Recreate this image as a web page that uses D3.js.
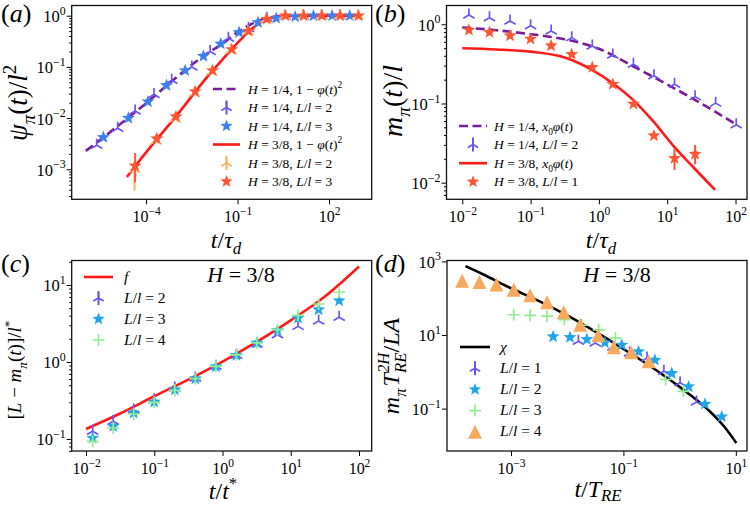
<!DOCTYPE html>
<html><head><meta charset="utf-8">
<script src="https://cdn.jsdelivr.net/npm/d3@7"></script>
<style>
body{margin:0;background:#fff}
svg text, svg tspan{font-family:'Liberation Serif','DejaVu Serif','Times New Roman',serif !important;white-space:pre}
</style>
</head><body><svg id="chart" width="750" height="505"></svg>
<script>
// ---------------- DATA ----------------
// Panel (a)
const aTicksX=[1e-4,1e-1,1e2];
const aTicksY=[1e-3,1e-2,1e-1,1];
const aDashT=[1.05e-6,1e-5,1e-4,1e-3,1e-2,0.0316,0.1,0.316,1,3.16,10,1000];
const aDashV=[2.29e-3,6.46e-3,0.0195,0.063,0.182,0.28,0.479,0.708,0.912,0.99,1,1];
const aRedT=[2.34e-5,1e-4,1e-3,0.01,0.0316,0.1,0.316,1,3.16,10,1000];
const aRedV=[7.08e-4,2.14e-3,0.0112,0.063,0.138,0.295,0.575,0.871,0.977,1,1];
const aTriQT=[2.40e-6,1.17e-5,4.37e-5,1.82e-4,6.92e-4,3.16e-3,0.0126,0.0501,0.229,0.912,3.63,14.5,57.5,229];
const aTriQV=[2.95e-3,6.31e-3,0.0138,0.0288,0.055,0.1,0.2,0.363,0.56,0.89,0.98,1,1,1];
const aStarQT=[3.98e-6,2.63e-5,1.15e-4,4.68e-4,1.91e-3,7.59e-3,0.0282,0.112,0.468,1.86,7.76,30.9,126,479];
const aStarQV=[4.22e-3,0.01,0.0209,0.0437,0.0851,0.162,0.282,0.473,0.741,0.891,0.955,1,1,1];
const aTriET=[4.17e-5,2.09e-4,8.91e-4,3.80e-3,0.0141,0.0603,0.219,0.851,3.47,13.8,55,219,871];
const aTriEV=[1.0e-3,3.55e-3,9.55e-3,0.0302,0.0794,0.209,0.49,0.851,1,1,1,1,1];
const aTriELo=[3.8e-4], aTriEHi=[1.41e-3];
const aStarET=[4.37e-5,2.24e-4,9.55e-4,4.07e-3,0.0151,0.0646,0.229,0.912,3.72,14.8,58.9,234,933];
const aStarEV=[1.17e-3,3.98e-3,0.0107,0.0331,0.0851,0.219,0.501,0.861,1,1,1,1,1];
const aStarELo=[5.6e-4], aStarEHi=[2.09e-3];
// Panel (b)
const bTicksX=[0.01,0.1,1,10,100];
const bTicksY=[0.01,0.1,1];
const bDashT=[0.01,0.0316,0.1,0.316,1,3.16,10,31.6,100];
const bDashV=[0.912,0.841,0.75,0.646,0.49,0.295,0.174,0.1,0.055];
const bRedT=[0.01,0.0316,0.1,0.316,0.794,1.585,3.16,6.31,12.6,25.1,50.1];
const bRedV=[0.498,0.481,0.451,0.380,0.265,0.18,0.111,0.0589,0.0285,0.0151,0.00813];
const bTriT=[0.0125,0.025,0.05,0.1,0.2,0.4,0.8,1.6,3.2,6.4,12.8,25.6,51.2,102.4];
const bTriV=[1.31,1.21,1.10,0.96,0.822,0.678,0.532,0.409,0.313,0.224,0.175,0.122,0.101,0.0537];
const bStarT=[0.0125,0.025,0.05,0.1,0.2,0.4,0.8,1.6,3.2,6.4,12.8,25.6];
const bStarV=[0.847,0.793,0.718,0.652,0.537,0.418,0.286,0.175,0.0986,0.0392,0.0203,0.0229];
const bStarLo=[null,null,null,null,null,null,null,null,null,null,0.0145,0.0171];
const bStarHi=[null,null,null,null,null,null,null,null,null,null,0.0272,0.0299];
// Panel (c)
const cTicksX=[0.01,0.1,1,10,100];
const cTicksY=[0.1,1,10];
const cLineT=[0.01,0.0316,0.1,0.316,1,3.16,10,31.6,100];
const cLineV=[0.135,0.214,0.359,0.59,1.01,1.82,3.47,7.08,17.4];
const cT=[0.0125,0.025,0.05,0.1,0.2,0.4,0.8,1.6,3.2,6.4,12.8,25.6,51.2];
const cTriV=[0.126,0.17,0.24,0.324,0.459,0.619,0.879,1.22,1.71,2.26,2.9,3.4,3.8];
const cStarV=[0.103,0.146,0.218,0.303,0.437,0.607,0.869,1.22,1.77,2.55,3.72,4.78,6.25];
const cPlusV=[0.0933,0.139,0.211,0.299,0.429,0.607,0.879,1.24,1.77,2.63,4.04,5.66,8.11];
// Panel (d)
const dTicksX=[1e-3,1e-1,10];
const dTicksY=[0.1,10,1000];
const dLineT=[1.55e-4,3.16e-4,1e-3,3.16e-3,0.01,0.0316,0.1,0.316,1,3.16,6.31,10.2];
const dLineV=[741,447,186,83.2,33.9,12.3,4.17,1.35,0.389,0.0955,0.0316,0.0116];
const dTriT=[0.0158,0.0316,0.0646,0.129,0.263,0.525,1.02,2.0];
const dTriV=[6.76,6.03,4.68,3.24,2.37,1.03,0.501,0.151];
const dStarT=[5.62e-3,0.0112,0.0224,0.0468,0.0933,0.186,0.363,0.724,1.45,2.82,5.62];
const dStarV=[9.0,8.65,7.64,6.17,5.35,3.52,2.09,0.912,0.394,0.133,0.0603];
const dPlusT=[1.12e-3,2.19e-3,4.37e-3,8.91e-3,0.0182,0.0363,0.0724,0.562,1.17];
const dPlusV=[35.5,34.3,32.4,26.3,18.6,13.8,8.32,0.617,0.295];
const dTriaT=[1.35e-4,2.75e-4,5.5e-4,1.12e-3,2.19e-3,4.37e-3,8.71e-3,0.017,0.0355,0.0676,0.138,0.282];
const dTriaV=[299,275,234,170,120,77.6,41.7,19.1,9.77,4.68,3.39,1.93];

// ---------------- STYLE ----------------
const COL={purple:'#7b1c99',red:'#ff1a1a',triBlue:'#6a55f2',starBlue:'#3d80f0',starRed:'#ff5533',
  triOrange:'#ffb061',sky:'#1ea5ea',green:'#93ee93',orange:'#f7aa5f',black:'#000'};
const SERIF="'Liberation Serif','DejaVu Serif','Times New Roman',serif";
const svg=d3.select('#chart');

function rich(sel,parts,fs,subK){
  let cur=0; const sk=subK==null?0.3:subK;
  parts.forEach(([s,f])=>{
    const sb=f.includes('b'), sp=f.includes('p');
    const target= sb? fs*sk : sp? -fs*0.42 : 0;
    const ts=sel.append('tspan').text(s).attr('font-size',(sb||sp)?fs*0.7:fs);
    if(target!==cur) ts.attr('dy',target-cur);
    cur=target;
    if(f.includes('i')) ts.attr('font-style','italic');
  });
  return sel;
}
function txt(g,x,y,fs,anchor){
  return g.append('text').attr('x',x).attr('y',y).style('font-family',SERIF).attr('font-size',fs)
    .attr('fill','#000').attr('text-anchor',anchor||'start');
}
function expLabel(sel,v,fs){
  const e=Math.round(Math.log10(v));
  sel.append('tspan').text('10');
  sel.append('tspan').attr('dy',-fs*0.45).attr('font-size',fs*0.72).text(e<0?'\u2212'+(-e):String(e));
}

function panel(o){
  const x=d3.scaleLog().domain(o.xd).range([o.l,o.r]);
  const y=d3.scaleLog().domain(o.yd).range([o.b,o.t]);
  const id='clip'+o.name;
  svg.append('clipPath').attr('id',id).append('rect').attr('x',o.l).attr('y',o.t).attr('width',o.r-o.l).attr('height',o.b-o.t);
  const g=svg.append('g');
  const xa=g.append('g').attr('transform',`translate(0,${o.b})`)
    .call(d3.axisBottom(x).tickValues(o.xt).tickSize(5).tickFormat(()=>''));
  xa.select('.domain').remove();
  xa.selectAll('.tick').each(function(d){
    const t=d3.select(this).append('text').attr('y',23).attr('text-anchor','middle')
      .style('font-family',SERIF).attr('font-size',16).attr('fill','#000');
    expLabel(t,d,16);
  });
  if(o.minor){
    const mv=[];const lo=Math.log10(o.yd[0]),hi=Math.log10(o.yd[1]);
    for(let k=Math.floor(lo);k<=Math.ceil(hi);k++) for(let m=2;m<10;m++){const v=m*Math.pow(10,k); if(Math.log10(v)>lo&&Math.log10(v)<hi) mv.push(v);}
    const ma=g.append('g').attr('transform',`translate(${o.l},0)`)
      .call(d3.axisLeft(y).tickValues(mv).tickSize(2.5).tickFormat(()=>''));
    ma.select('.domain').remove();
  }
  const ya=g.append('g').attr('transform',`translate(${o.l},0)`)
    .call(d3.axisLeft(y).tickValues(o.yt).tickSize(5).tickFormat(()=>''));
  ya.select('.domain').remove();
  ya.selectAll('.tick').each(function(d){
    const t=d3.select(this).append('text').attr('x',-6).attr('y',6).attr('text-anchor','end')
      .style('font-family',SERIF).attr('font-size',16.5).attr('fill','#000');
    expLabel(t,d,16.5);
  });
  const plot=g.append('g').attr('clip-path',`url(#${id})`);
  const P={x,y,g,plot,o};
  P.frame=()=>g.append('rect').attr('x',o.l).attr('y',o.t).attr('width',o.r-o.l).attr('height',o.b-o.t)
    .attr('fill','none').attr('stroke','#111').attr('stroke-width',1.3);
  return P;
}

function mark(g,shape,cx,cy,r,color){
  const tr=`translate(${cx},${cy})`;
  if(shape==='star'){
    let p='';for(let k=0;k<10;k++){const a=-Math.PI/2+k*Math.PI/5;const rr=k%2?r*0.42:r;
      p+=(k?'L':'M')+(rr*Math.cos(a)).toFixed(2)+','+(rr*Math.sin(a)).toFixed(2);}
    g.append('path').attr('d',p+'Z').attr('transform',tr).attr('fill',color);
  } else if(shape==='tri'){
    g.append('path').attr('d',`M0,0V${-r}M0,0L${-0.866*r},${0.5*r}M0,0L${0.866*r},${0.5*r}`)
      .attr('transform',tr).attr('stroke',color).attr('stroke-width',1.7).attr('fill','none');
  } else if(shape==='plus'){
    g.append('path').attr('d',`M${-r},0H${r}M0,${-r}V${r}`)
      .attr('transform',tr).attr('stroke',color).attr('stroke-width',1.7).attr('fill','none');
  } else if(shape==='triangle'){
    g.append('path').attr('d',`M0,${-r}L${-r},${r}L${r},${r}Z`).attr('transform',tr).attr('fill',color);
  }
}
function scatter(P,xs,ys,shape,color,r,lo,hi){
  xs.forEach((xv,i)=>{
    const cx=P.x(xv),cy=P.y(ys[i]);
    if(lo&&lo[i]!=null&&hi&&hi[i]!=null)
      P.plot.append('line').attr('x1',cx).attr('x2',cx).attr('y1',P.y(lo[i])).attr('y2',P.y(hi[i]))
        .attr('stroke',color).attr('stroke-width',2);
    mark(P.plot,shape,cx,cy,r,color);
  });
}
function curve(P,xs,ys,color,dash){
  P.plot.append('path').datum(xs.map((t,i)=>[t,ys[i]]))
    .attr('d',d3.line().x(d=>P.x(d[0])).y(d=>P.y(d[1])).curve(d3.curveMonotoneX))
    .attr('fill','none').attr('stroke',color).attr('stroke-width',2.6).attr('stroke-dasharray',dash||null);
}
function legend(P,x0,lx,tx,y0,dy,items,fs){
  items.forEach((it,i)=>{
    const yy=y0+i*dy;
    if(it.line) P.g.append('line').attr('x1',x0).attr('x2',x0+lx).attr('y1',yy).attr('y2',yy)
      .attr('stroke',it.color).attr('stroke-width',2.6).attr('stroke-dasharray',it.dash||null);
    if(it.shape){
      const cx=x0+lx/2;
      if(it.err) P.g.append('line').attr('x1',cx).attr('x2',cx).attr('y1',yy-7).attr('y2',yy+7).attr('stroke',it.color).attr('stroke-width',2);
      mark(P.g,it.shape,cx,yy,it.r,it.color);
    }
    rich(txt(P.g,tx,yy+4.5,fs),it.text,fs);
  });
}
function ylabel(cx,cy,parts,fs){
  const t=svg.append('text').attr('transform',`translate(${cx},${cy}) rotate(-90)`).attr('text-anchor','middle')
    .style('font-family',SERIF).attr('font-size',fs).attr('fill','#000');
  rich(t,parts,fs);return t;
}
function xlabel(cx,by,parts,fs,subK){ rich(txt(svg,cx,by,fs,'middle'),parts,fs,subK); }

// ---------------- PANEL (a) ----------------
const A=panel({name:'a',l:71.7,r:371.7,t:5.5,b:199.3,xd:[Math.pow(10,-6.44),Math.pow(10,3.40)],
  yd:[Math.pow(10,-3.586),Math.pow(10,0.199)],xt:aTicksX,yt:aTicksY,minor:true});
curve(A,aDashT,aDashV,COL.purple,'9,4.5');
curve(A,aRedT,aRedV,COL.red);
scatter(A,aTriQT,aTriQV,'tri',COL.triBlue,6.5);
scatter(A,aStarQT,aStarQV,'star',COL.starBlue,6.8);
scatter(A,aTriET,aTriEV,'tri',COL.triOrange,6.5,aTriELo,aTriEHi);
scatter(A,aStarET,aStarEV,'star',COL.starRed,6.8,aStarELo,aStarEHi);
A.frame();
legend(A,213,27,248,89,18.5,[
  {line:1,color:COL.purple,dash:'9,4.5',text:[['H','i'],[' = 1/4, 1 \u2212 ',''],['\u03c6','i'],['(',''],['t','i'],[')',''],['2','p']]},
  {shape:'tri',r:6,err:1,color:COL.triBlue,text:[['H','i'],[' = 1/4, ',''],['L','i'],['/',''],['l','i'],[' = 2','']]},
  {shape:'star',r:6.5,color:COL.starBlue,text:[['H','i'],[' = 1/4, ',''],['L','i'],['/',''],['l','i'],[' = 3','']]},
  {line:1,color:COL.red,text:[['H','i'],[' = 3/8, 1 \u2212 ',''],['\u03c6','i'],['(',''],['t','i'],[')',''],['2','p']]},
  {shape:'tri',r:6,err:1,color:COL.triOrange,text:[['H','i'],[' = 3/8, ',''],['L','i'],['/',''],['l','i'],[' = 2','']]},
  {shape:'star',r:6.5,color:COL.starRed,text:[['H','i'],[' = 3/8, ',''],['L','i'],['/',''],['l','i'],[' = 3','']]}
],13.5);
ylabel(27,103,[['\u03c8','i'],['\u03c0','ib'],['(',''],['t','i'],[')/',''],['l','i'],['2','p']],27);
xlabel(226,247.5,[['t','i'],['/',''],['\u03c4','i'],['d','ib']],24,0.25);
rich(txt(svg,1,22,26),[['(',''],['a','i'],[')','']],26);

// ---------------- PANEL (b) ----------------
const B=panel({name:'b',l:446.5,r:747,t:5.5,b:199.3,xd:[Math.pow(10,-2.231),Math.pow(10,2.168)],
  yd:[Math.pow(10,-2.21),Math.pow(10,0.237)],xt:bTicksX,yt:bTicksY,minor:true});
curve(B,bDashT,bDashV,COL.purple,'9,4.5');
scatter(B,bTriT,bTriV,'tri',COL.triBlue,6.5);
curve(B,bRedT,bRedV,COL.red);
scatter(B,bStarT,bStarV,'star',COL.starRed,6.8,bStarLo,bStarHi);
B.frame();
legend(B,459,28,494,126,18.6,[
  {line:1,color:COL.purple,dash:'9,4.5',text:[['H','i'],[' = 1/4, ',''],['x','i'],['0','b'],['\u03c6','i'],['(',''],['t','i'],[')','']]},
  {shape:'tri',r:6,err:1,color:COL.triBlue,text:[['H','i'],[' = 1/4, ',''],['L','i'],['/',''],['l','i'],[' = 2','']]},
  {line:1,color:COL.red,text:[['H','i'],[' = 3/8, ',''],['x','i'],['0','b'],['\u03c6','i'],['(',''],['t','i'],[')','']]},
  {shape:'star',r:6.5,color:COL.starRed,text:[['H','i'],[' = 3/8, ',''],['L','i'],['/',''],['l','i'],[' = 1','']]}
],13.5);
ylabel(402,101,[['m','i'],['\u03c0','ib'],['(',''],['t','i'],[')/',''],['l','i']],28);
xlabel(601,247.5,[['t','i'],['/',''],['\u03c4','i'],['d','ib']],24,0.25);
rich(txt(svg,375,22,26),[['(',''],['b','i'],[')','']],26);

// ---------------- PANEL (c) ----------------
const Cp=panel({name:'c',l:71.7,r:371.7,t:260.5,b:451,xd:[Math.pow(10,-2.21),Math.pow(10,2.186)],
  yd:[Math.pow(10,-1.156),Math.pow(10,1.318)],xt:cTicksX,yt:cTicksY,minor:true});
curve(Cp,cLineT,cLineV,COL.red);
scatter(Cp,cT,cTriV,'tri',COL.triBlue,6.5);
scatter(Cp,cT,cStarV,'star',COL.sky,6.8);
scatter(Cp,cT,cPlusV,'plus',COL.green,6);
Cp.frame();
legend(Cp,84,29,124,277,21,[
  {line:1,color:COL.red,text:[['f','i']]},
  {shape:'tri',r:6,err:1,color:COL.triBlue,text:[['L','i'],['/',''],['l','i'],[' = 2','']]},
  {shape:'star',r:6.5,color:COL.sky,text:[['L','i'],['/',''],['l','i'],[' = 3','']]},
  {shape:'plus',r:6,color:COL.green,text:[['L','i'],['/',''],['l','i'],[' = 4','']]}
],15.5);
rich(txt(svg,241,282,22,'middle'),[['H','i'],[' = 3/8','']],22);
ylabel(21,370,[['[',''],['L','i'],[' \u2212 ',''],['m','i'],['\u03c0','ib'],['(',''],['t','i'],[')]/',''],['l','i'],['*','p']],19);
xlabel(223,499,[['t','i'],['/',''],['t','i'],['*','p']],24);
rich(txt(svg,1,272,26),[['(',''],['c','i'],[')','']],26);

// ---------------- PANEL (d) ----------------
const D=panel({name:'d',l:447,r:747,t:260.5,b:451,xd:[Math.pow(10,-4.139),Math.pow(10,1.199)],
  yd:[Math.pow(10,-2.152),Math.pow(10,3.024)],xt:dTicksX,yt:dTicksY,minor:false});
curve(D,dLineT,dLineV,COL.black);
scatter(D,dTriT,dTriV,'tri',COL.triBlue,6.5);
scatter(D,dStarT,dStarV,'star',COL.sky,6.8);
scatter(D,dPlusT,dPlusV,'plus',COL.green,6);
scatter(D,dTriaT,dTriaV,'triangle',COL.orange,7);
D.frame();
legend(D,460,30,500,347,21.2,[
  {line:1,color:COL.black,text:[['\u03c7','i']]},
  {shape:'tri',r:6,err:1,color:COL.triBlue,text:[['L','i'],['/',''],['l','i'],[' = 1','']]},
  {shape:'star',r:6.5,color:COL.sky,text:[['L','i'],['/',''],['l','i'],[' = 2','']]},
  {shape:'plus',r:6,color:COL.green,text:[['L','i'],['/',''],['l','i'],[' = 3','']]},
  {shape:'triangle',r:7,color:COL.orange,text:[['L','i'],['/',''],['l','i'],[' = 4','']]}
],15.5);
rich(txt(svg,617,282,22,'middle'),[['H','i'],[' = 3/8','']],22);
(function(){
  const fs=24;
  const t=svg.append('text').attr('transform','translate(399,366) rotate(-90)').attr('text-anchor','middle')
    .style('font-family',SERIF).attr('font-size',fs).attr('fill','#000');
  t.append('tspan').attr('font-style','italic').text('m');
  t.append('tspan').attr('font-style','italic').attr('font-size',fs*0.7).attr('dy',fs*0.3).text('\u03c0');
  t.append('tspan').attr('font-style','italic').attr('dy',-fs*0.3).attr('dx',2).text('T');
  const sp=t.append('tspan').attr('font-style','italic').attr('font-size',fs*0.7).attr('dy',-fs*0.42).text('2H');
  const w=sp.node().getComputedTextLength();
  const sb=t.append('tspan').attr('font-style','italic').attr('font-size',fs*0.7).attr('dy',fs*0.72).attr('dx',-w).text('RE');
  const w2=sb.node().getComputedTextLength();
  t.append('tspan').attr('dy',-fs*0.3).attr('dx',Math.max(0,w-w2)).text('/');
  t.append('tspan').attr('font-style','italic').text('LA');
})();
xlabel(598,497,[['t','i'],['/',''],['T','i'],['RE','ib']],24,0.16);
rich(txt(svg,375,272,26),[['(',''],['d','i'],[')','']],26);
</script></body></html>
